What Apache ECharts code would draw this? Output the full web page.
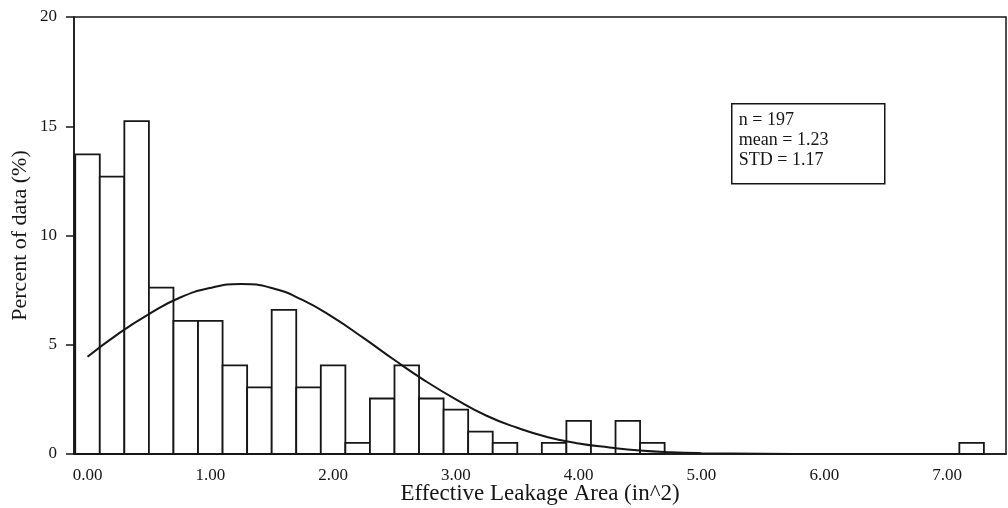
<!DOCTYPE html>
<html>
<head>
<meta charset="utf-8">
<script src="https://cdn.jsdelivr.net/npm/echarts@6/dist/echarts.min.js"></script>
<style>
html,body{margin:0;padding:0;background:#fff;}
#main{width:1008px;height:508px;}
</style>
</head>
<body>
<div id="main"></div>
<script>
// Histogram bin centres (in^2) and percent of data
var binCenters = [0.0, 0.2, 0.4, 0.6, 0.8, 1.0, 1.2, 1.4, 1.6, 1.8, 2.0, 2.2, 2.4, 2.6, 2.8, 3.0, 3.2, 3.4, 3.8, 4.0, 4.4, 4.6, 7.2];
var binPercent = [13.71, 12.69, 15.23, 7.61, 6.09, 6.09, 4.06, 3.05, 6.60, 3.05, 4.06, 0.51, 2.54, 4.06, 2.54, 2.03, 1.02, 0.51, 0.51, 1.52, 1.52, 0.51, 0.51];
var binWidth = 0.2;

// Fitted normal curve
var curveX = [0, 0.25, 0.5, 0.75, 1.0, 1.25, 1.5, 1.75, 2.0, 2.25, 2.5, 2.75, 3.0, 3.25, 3.5, 3.75, 4.0, 4.25, 4.5, 4.75, 5.0, 5.5, 6.0, 6.5, 7.0, 7.2];
var curveY = [4.45, 5.5, 6.4, 7.15, 7.6, 7.78, 7.6, 7.05, 6.25, 5.3, 4.3, 3.35, 2.5, 1.75, 1.2, 0.77, 0.48, 0.3, 0.16, 0.08, 0.04, 0.01, 0, 0, 0, 0];

var xTickValues = [0, 1, 2, 3, 4, 5, 6, 7];
var statsLines = ['n = 197', 'mean = 1.23', 'STD = 1.17'];

var xAxisName = 'Effective Leakage Area (in^2)';
var yAxisName = 'Percent of data (%)';

var FONT = '"Liberation Serif", "DejaVu Serif", serif';
var INK = '#161616';

var barData = binCenters.map(function (c, i) { return [c, binPercent[i]]; });
var lineData = curveX.map(function (x, i) { return [x, curveY[i]]; });

var chart = echarts.init(document.getElementById('main'), null, {renderer: 'canvas'});
chart.setOption({
  backgroundColor: '#fff',
  animation: false,
  grid: {left: 74, right: 2, top: 17, bottom: 54, containLabel: false, outerBoundsMode: 'none',
         show: true, borderColor: INK, borderWidth: 1.5, backgroundColor: 'transparent'},
  xAxis: {
    type: 'value', min: -0.11, max: 7.48,
    name: xAxisName, nameLocation: 'middle', nameGap: 28, nameMoveOverlap: false,
    nameTextStyle: {fontFamily: FONT, fontSize: 23, color: INK},
    axisLine: {show: true, onZero: false, lineStyle: {color: INK, width: 1.5}},
    axisTick: {show: false, customValues: xTickValues},
    splitLine: {show: false},
    axisLabel: {
      customValues: xTickValues, margin: 13,
      fontFamily: FONT, fontSize: 17, color: INK,
      formatter: function (v) { return v.toFixed(2); }
    }
  },
  yAxis: {
    type: 'value', min: 0, max: 20, interval: 5,
    name: yAxisName, nameLocation: 'middle', nameGap: 43, nameRotate: 90, nameMoveOverlap: false,
    nameTextStyle: {fontFamily: FONT, fontSize: 22, color: INK},
    axisLine: {show: true, onZero: false, lineStyle: {color: INK, width: 1.5}},
    axisTick: {show: true, inside: false, length: 8, lineStyle: {color: INK, width: 1.5}},
    splitLine: {show: false},
    axisLabel: {margin: 17, fontFamily: FONT, fontSize: 17, color: INK}
  },
  series: [
    {
      type: 'custom',
      data: barData,
      renderItem: function (params, api) {
        var c = api.value(0), v = api.value(1);
        var p0 = api.coord([c - binWidth / 2, v]);
        var p1 = api.coord([c + binWidth / 2, 0]);
        return {
          type: 'rect',
          shape: {x: p0[0], y: p0[1], width: p1[0] - p0[0], height: p1[1] - p0[1]},
          style: {fill: '#fff', stroke: INK, lineWidth: 1.8}
        };
      },
      z: 2
    },
    {
      type: 'line',
      data: lineData,
      smooth: true,
      showSymbol: false,
      lineStyle: {color: INK, width: 2},
      z: 3
    }
  ],
  graphic: [
    {
      type: 'group', left: 731, top: 103, z: 10,
      children: [
        {type: 'rect', shape: {x: 0, y: 0, width: 153, height: 80}, style: {fill: '#fff', stroke: INK, lineWidth: 1.5}},
        {type: 'text', left: 7, top: 7, style: {text: statsLines.join('\n'), font: '18px ' + FONT, fill: INK, lineHeight: 20}}
      ]
    }
  ]
});
</script>
</body>
</html>
